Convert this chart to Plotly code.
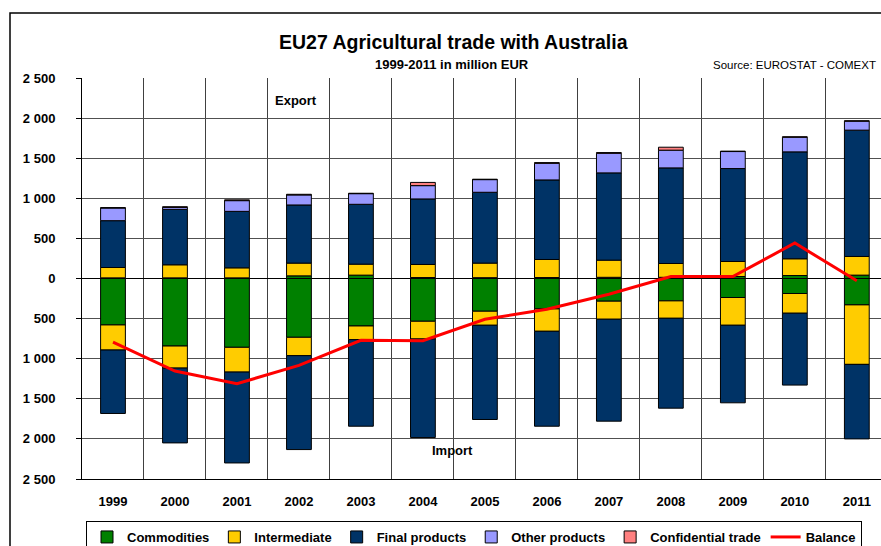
import plotly.graph_objects as go

years = ['1999', '2000', '2001', '2002', '2003', '2004', '2005', '2006', '2007', '2008', '2009', '2010', '2011']

# Export (positive)
exp_commodities = [8, 8, 8, 33, 42, 12, 10, 12, 15, 15, 25, 37, 42]
exp_intermediate = [129, 163, 125, 159, 137, 163, 182, 225, 214, 172, 187, 209, 233]
exp_final = [584, 691, 704, 725, 746, 817, 883, 992, 1088, 1192, 1159, 1333, 1575]
exp_other = [158, 25, 134, 125, 133, 166, 158, 208, 245, 221, 212, 183, 112]
exp_confidential = [5, 8, 10, 8, 5, 40, 5, 8, 8, 37, 5, 5, 5]

# Import (shown below zero)
imp_commodities = [579, 842, 858, 733, 592, 533, 408, 379, 283, 279, 237, 187, 329]
imp_intermediate = [313, 275, 309, 229, 170, 221, 175, 279, 225, 217, 346, 246, 742]
imp_final = [791, 933, 1133, 1171, 1080, 1229, 1175, 1184, 1271, 1121, 967, 896, 929]

balance = [-792, -1154, -1312, -1083, -771, -775, -508, -383, -196, 25, 25, 442, -29]

y_tickvals = [2500, 2000, 1500, 1000, 500, 0, -500, -1000, -1500, -2000, -2500]
y_ticktext = ['2 500', '2 000', '1 500', '1 000', '500', '0', '500', '1 000', '1 500', '2 000', '2 500']

C_COM = '#008000'
C_INT = '#FFCC00'
C_FIN = '#003366'
C_OTH = '#9999FF'
C_CONF = '#FF8080'

FONT = 'Liberation Sans, Arial, sans-serif'

W, H = 881, 546
ML, MR, MT, MB = 82, 0, 78, 67
PW, PH = W - ML - MR, H - MT - MB


def px(x):
    return (x - ML) / PW


def py(y):
    return (H - MB - y) / PH


fig = go.Figure()


def bar(name, vals, color, show, sign=1):
    fig.add_trace(go.Bar(
        x=years, y=[sign * v for v in vals], name=name, legendgroup=name,
        showlegend=show, width=0.4,
        marker=dict(color=color, line=dict(color='black', width=1)),
    ))


bar('Commodities', exp_commodities, C_COM, True)
bar('Commodities', imp_commodities, C_COM, False, -1)
bar('Intermediate', exp_intermediate, C_INT, True)
bar('Intermediate', imp_intermediate, C_INT, False, -1)
bar('Final products', exp_final, C_FIN, True)
bar('Final products', imp_final, C_FIN, False, -1)
bar('Other products', exp_other, C_OTH, True)
bar('Confidential trade', exp_confidential, C_CONF, True)

fig.add_trace(go.Scatter(
    x=years, y=balance, name='Balance', mode='lines',
    line=dict(color='#FF0000', width=3),
))

fig.update_layout(
    width=W, height=H,
    margin=dict(l=ML, r=MR, t=MT, b=MB, autoexpand=False),
    barmode='relative',
    paper_bgcolor='white', plot_bgcolor='white',
    font=dict(family=FONT, size=13, color='black'),
    showlegend=True,
    legend=dict(
        orientation='h', x=px(86), xanchor='left', y=py(521), yanchor='top',
        font=dict(family=FONT, size=13, color='black', weight='bold'),
        bordercolor='black', borderwidth=1, bgcolor='white',
        itemwidth=30, tracegroupgap=0, traceorder='normal',
    ),
    xaxis=dict(
        type='category', range=[-0.5, 12.39], tickson='boundaries',
        showgrid=True, gridcolor='#404040', gridwidth=1,
        showline=True, linecolor='black', linewidth=1,
        ticks='', tickfont=dict(family=FONT, size=13, weight='bold'),
        ticklabelstandoff=10,
    ),
    yaxis=dict(
        range=[-2500, 2500], tickvals=y_tickvals, ticktext=y_ticktext,
        showgrid=True, gridcolor='#505050', gridwidth=1,
        zeroline=True, zerolinecolor='black', zerolinewidth=1,
        showline=True, linecolor='black', linewidth=1,
        ticks='outside', ticklen=5, tickcolor='black',
        tickfont=dict(family=FONT, size=13, weight='bold'),
        ticklabelstandoff=18,
    ),
    annotations=[
        dict(text='<b>EU27 Agricultural trade with Australia</b>', xref='paper', yref='paper',
             x=px(453), y=py(42), xanchor='center', yanchor='middle',
             showarrow=False, font=dict(family=FONT, size=19.5)),
        dict(text='<b>1999-2011 in million EUR</b>', xref='paper', yref='paper',
             x=px(452), y=py(65), xanchor='center', yanchor='middle',
             showarrow=False, font=dict(family=FONT, size=13)),
        dict(text='Source: EUROSTAT - COMEXT', xref='paper', yref='paper',
             x=px(878), y=py(65), xanchor='right', yanchor='middle',
             showarrow=False, font=dict(family=FONT, size=11.5)),
        dict(text='<b>Export</b>', xref='paper', yref='paper',
             x=px(296), y=py(100), xanchor='center', yanchor='middle',
             showarrow=False, font=dict(family=FONT, size=13)),
        dict(text='<b>Import</b>', xref='paper', yref='paper',
             x=px(452), y=py(450), xanchor='center', yanchor='middle',
             showarrow=False, font=dict(family=FONT, size=13)),
    ],
    shapes=[
        dict(type='rect', xref='paper', yref='paper',
             x0=px(10), x1=1.05, y0=-0.3, y1=py(13),
             line=dict(color='black', width=1.5), fillcolor='rgba(0,0,0,0)', layer='below'),
    ],
)

fig.write_html(
    'out.html',
    config={'displayModeBar': False},
    post_script="document.body.style.margin='0px';document.body.style.overflow='hidden';",
)
